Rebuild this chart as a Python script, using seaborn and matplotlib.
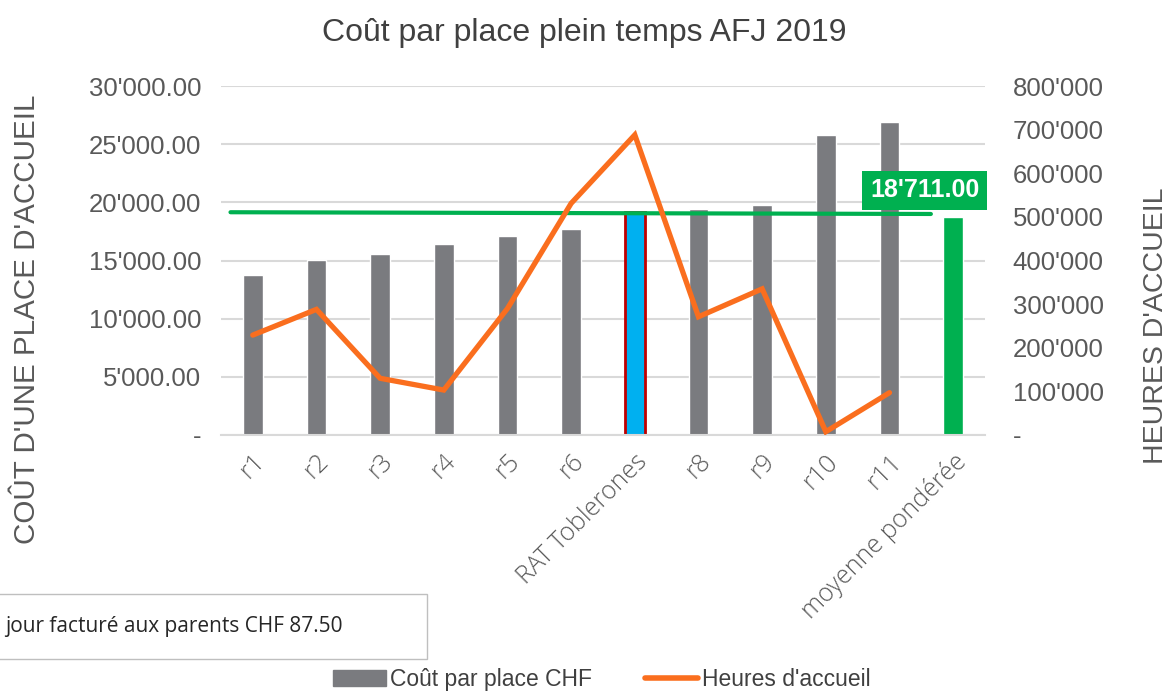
import numpy as np
import pandas as pd
import seaborn as sns
import matplotlib.pyplot as plt
from matplotlib.patches import Patch, Rectangle
from matplotlib.lines import Line2D
from matplotlib.ticker import FuncFormatter, MultipleLocator

# Data
regions = ['r1', 'r2', 'r3', 'r4', 'r5', 'r6', 'RAT Toblerones',
           'r8', 'r9', 'r10', 'r11', 'moyenne pondérée']
cost_per_place = [13750, 15050, 15560, 16420, 17100, 17680, 19200,
                  19400, 19750, 25760, 26900, 18711]
hours = [229000, 288000, 130000, 103000, 290000, 531000, 688000,
         271000, 335000, 7500, 97000, np.nan]
avg_line = [19150, 19000]
avg_label = "18'711.00"
note_text = "jour facturé aux parents CHF 87.50"

GREY = '#7a7b7f'
ORANGE = '#fa6e1e'
GREEN = '#00b050'
BLUE = '#00b0f0'
TXT = '#595959'

df = pd.DataFrame({'region': regions, 'cost': cost_per_place, 'hours': hours})
colors = [GREY] * len(regions)
colors[6] = BLUE
colors[-1] = GREEN

sns.set_style('white')
plt.rcParams['font.family'] = ['Liberation Sans', 'DejaVu Sans']

fig = plt.figure(figsize=(11.69, 6.91), dpi=100)
ax = fig.add_axes([0.189, 0.3705, 0.6536, 0.505])

sns.barplot(data=df, x='region', y='cost', hue='region', palette=colors,
            legend=False, width=0.31, ax=ax, saturation=1)
# red outline on the highlighted bar
ax.patches[6].set_edgecolor('#c00000')
ax.patches[6].set_linewidth(2)

# weighted average line
ax.plot([-0.35, 10.65], avg_line, color=GREEN, lw=3, zorder=4)

ax.set_xlim(-0.5, len(regions) - 0.5)
ax.set_ylim(0, 30000)
ax.yaxis.set_major_locator(MultipleLocator(5000))
ax.yaxis.set_major_formatter(FuncFormatter(
    lambda v, p: '-' if v == 0 else f"{v:,.2f}".replace(',', "'")))
ax.grid(axis='y', color='#d9d9d9', lw=1.5)
ax.set_axisbelow(True)
for s in ['top', 'left', 'right']:
    ax.spines[s].set_visible(False)
ax.spines['bottom'].set_color('#d9d9d9')
ax.spines['bottom'].set_linewidth(1.5)
ax.tick_params(axis='y', labelsize=18.5, labelcolor=TXT, length=0, pad=14)
ax.tick_params(axis='x', length=0, pad=10)
ax.set_xticks(range(len(regions)))
ax.set_xticklabels(regions, rotation=45, ha='right', rotation_mode='anchor',
                   fontsize=18, color=TXT, family='Open Sans', fontweight='light')
ax.set_xlabel('')
ax.set_ylabel('')

# hours on secondary axis
ax2 = ax.twinx()
sns.lineplot(x=np.arange(len(regions)), y=df['hours'], color=ORANGE, lw=3.8,
             ax=ax2, solid_joinstyle='miter', solid_capstyle='round')
ax2.set_ylim(0, 800000)
ax2.yaxis.set_major_locator(MultipleLocator(100000))
ax2.yaxis.set_major_formatter(FuncFormatter(
    lambda v, p: '-' if v == 0 else f"{v:,.0f}".replace(',', "'")))
ax2.tick_params(axis='y', labelsize=18.5, labelcolor=TXT, length=0, pad=20)
for s in ax2.spines.values():
    s.set_visible(False)
ax2.set_ylabel('')
ax2.grid(False)

# data label for the weighted average
ax.text(10.55, 21050, avg_label, color='white', fontsize=18, fontweight='bold',
        ha='center', va='center', zorder=6,
        bbox=dict(boxstyle='square,pad=0.3', fc=GREEN, ec='none'))

fig.text(0.5, 0.952, 'Coût par place plein temps AFJ 2019', ha='center',
         va='center', fontsize=23, color='#404040')
fig.text(0.023, 0.538, "COÛT D'UNE PLACE D'ACCUEIL", rotation=90, ha='center',
         va='center', fontsize=21.3, color=TXT)
fig.text(0.989, 0.528, "HEURES D'ACCUEIL", rotation=90, ha='center',
         va='center', fontsize=20.5, color=TXT)

# note box at bottom left
fig.patches.append(Rectangle((-0.01, 0.046), 0.375, 0.094, transform=fig.transFigure,
                             fc='white', ec='#bfbfbf', lw=1))
fig.text(0.004, 0.093, note_text, ha='left', va='center', fontsize=15,
         color='#262626', family='Open Sans')

handles = [Patch(color=GREY), Line2D([0], [0], color=ORANGE, lw=4)]
fig.legend(handles, ['Coût par place CHF', "Heures d'accueil"], loc='center',
           bbox_to_anchor=(0.515, 0.017), ncol=2, frameon=False, fontsize=16.5,
           labelcolor='#404040', handlelength=2.3, handletextpad=0.2,
           columnspacing=2.3)

fig.savefig('out.png', dpi=100)
